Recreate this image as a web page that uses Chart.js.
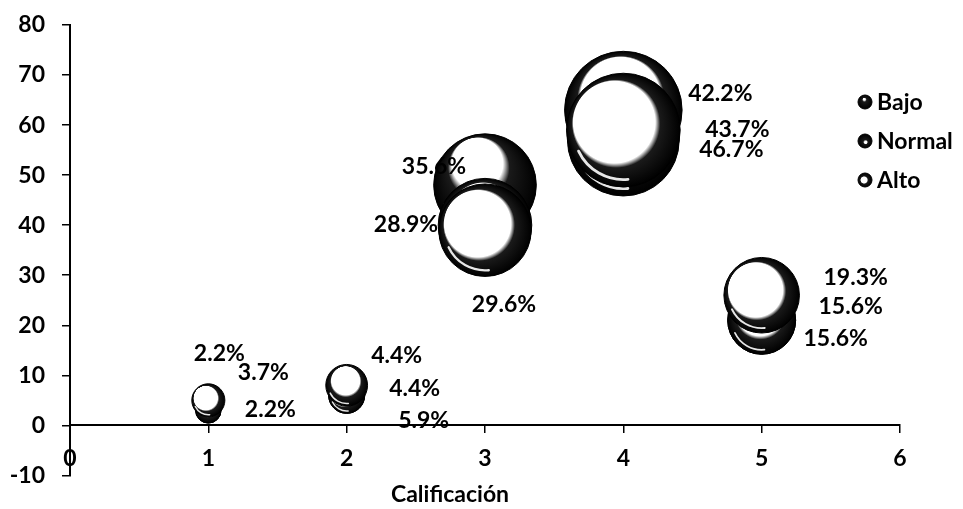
<!DOCTYPE html>
<html>
<head>
<meta charset="utf-8">
<script src="https://cdn.jsdelivr.net/npm/chart.js@4.4.1/dist/chart.umd.min.js"></script>
<style>
  html, body { margin: 0; padding: 0; background: #fff; }
  #wrap { width: 963px; height: 509px; }
</style>
</head>
<body>
<div id="wrap"><canvas id="chart" width="963" height="509"></canvas></div>
<script>
// Rating categories (x) and, per group, the plotted count (y) and the share in percent (bubble size)
const categories = [1, 2, 3, 4, 5];
const seriesNames = ['Bajo', 'Normal', 'Alto'];
const bajoValues = [3, 6, 48, 57, 21];
const normalValues = [5, 6, 39, 59, 26];
const altoValues = [3, 8, 40, 63, 21];
const bajoPercent = [2.2, 4.4, 35.6, 42.2, 15.6];
const normalPercent = [3.7, 4.4, 28.9, 43.7, 19.3];
const altoPercent = [2.2, 5.9, 29.6, 46.7, 15.6];
const xAxisTitle = 'Calificación';

// ---- styling ----
const FONT = "Lato, 'Open Sans', sans-serif";
const FONT_SIZE = 23;
const RADIUS_PER_ROOT = 8.6;        // bubble area proportional to the percentage
// glossy ball look: white core (offset and radius as fractions of the bubble radius;
// offset + radius must stay below 1 so the core stays inside the ball)
const shading = [
  { ix: -0.15, iy: -0.42, ir: 0.5 },   // Bajo
  { ix: -0.16, iy: -0.14, ir: 0.72 },  // Normal
  { ix: -0.05, iy: -0.22, ir: 0.68 }   // Alto
];
const keyShading = [
  { ix: -0.1, iy: -0.4, ir: 0.15 },
  { ix: 0.1, iy: 0.2, ir: 0.18 },
  { ix: -0.15, iy: 0, ir: 0.45 }
];
// which bubble sits in front, per series and category (higher = in front)
const stacking = [
  [0, 0, 0, 0, 0],
  [2, 1, 2, 2, 2],
  [1, 2, 1, 1, 1]
];
// label placement relative to each bubble centre, in pixels
const labelOffsets = [
  [[11, -57], [50, -40], [-51, -19], [97, -47], [89, -14]],
  [[55, -28], [68, -7], [-79, -6], [114, -1], [94, -18]],
  [[62, -1], [77, 35], [19, 79], [108, 40], [74, 18]]
];

const valueSets = [bajoValues, normalValues, altoValues];
const percentSets = [bajoPercent, normalPercent, altoPercent];

function ballGradient(g, cx, cy, r, s) {
  const grad = g.createRadialGradient(cx + s.ix * r, cy + s.iy * r, s.ir * r, cx, cy, r);
  grad.addColorStop(0, '#ffffff');
  grad.addColorStop(0.2, '#1a1a1a');
  grad.addColorStop(1, '#000000');
  return grad;
}

const datasets = seriesNames.map((name, si) => ({
  label: name,
  data: categories.map((c, i) => ({
    x: c,
    y: valueSets[si][i],
    r: RADIUS_PER_ROOT * Math.sqrt(percentSets[si][i]),
    pct: percentSets[si][i]
  })),
  borderColor: '#000',
  borderWidth: 1,
  backgroundColor: (ctx) => {
    if (ctx.type !== 'data' || !ctx.raw) return '#000';
    const ch = ctx.chart;
    const xs = ch.scales.x, ys = ch.scales.y;
    if (!xs || !ys) return '#000';
    const px = xs.getPixelForValue(ctx.raw.x);
    const py = ys.getPixelForValue(ctx.raw.y);
    if (!isFinite(px) || !isFinite(py)) return '#000';
    return ballGradient(ch.ctx, px, py, ctx.raw.r, shading[ctx.datasetIndex]);
  }
}));

// draw the bubbles back-to-front per category, each with a light reflection along its lower edge
const bubbleStack = {
  id: 'bubbleStack',
  beforeDatasetsDraw(chart) {
    const g = chart.ctx;
    const items = [];
    chart.data.datasets.forEach((ds, di) => {
      const meta = chart.getDatasetMeta(di);
      meta.data.forEach((el, i) => items.push({ el, rank: stacking[di][i] }));
    });
    items.sort((a, b) => a.rank - b.rank);
    items.forEach(({ el }) => {
      el.draw(g, chart.chartArea);
      const r = el.options.radius;
      if (r > 15) {
        g.save();
        g.beginPath();
        g.arc(el.x, el.y, r * 0.87, Math.PI * 0.47, Math.PI * 0.86);
        g.strokeStyle = 'rgba(255,255,255,0.9)';
        g.lineWidth = Math.max(1.5, r * 0.05);
        g.lineCap = 'round';
        g.stroke();
        g.restore();
      }
    });
    return false;
  }
};

// percentage labels next to the bubbles
const bubbleLabels = {
  id: 'bubbleLabels',
  afterDraw(chart) {
    const g = chart.ctx;
    g.save();
    g.font = `bold ${FONT_SIZE}px ${FONT}`;
    g.fillStyle = '#000';
    g.textAlign = 'center';
    g.textBaseline = 'middle';
    chart.data.datasets.forEach((ds, di) => {
      const meta = chart.getDatasetMeta(di);
      meta.data.forEach((el, i) => {
        const [dx, dy] = labelOffsets[di][i];
        g.fillText(ds.data[i].pct.toFixed(1) + '%', el.x + dx, el.y + dy);
      });
    });
    g.restore();
  }
};

// series key on the right
const seriesKey = {
  id: 'seriesKey',
  afterDraw(chart) {
    const g = chart.ctx;
    const x0 = 865, y0 = 102, step = 39, mr = 7;
    g.save();
    g.font = `bold ${FONT_SIZE}px ${FONT}`;
    g.textAlign = 'left';
    g.textBaseline = 'middle';
    chart.data.datasets.forEach((ds, i) => {
      const y = y0 + i * step;
      g.beginPath();
      g.arc(x0, y, mr, 0, Math.PI * 2);
      g.fillStyle = ballGradient(g, x0, y, mr, keyShading[i]);
      g.fill();
      g.lineWidth = 1;
      g.strokeStyle = '#000';
      g.stroke();
      g.fillStyle = '#000';
      g.fillText(ds.label, x0 + 12, y + 1);
    });
    g.restore();
  }
};

const tickFont = { family: FONT, size: FONT_SIZE, weight: 'bold' };

new Chart(document.getElementById('chart'), {
  type: 'bubble',
  data: { datasets },
  plugins: [bubbleStack, bubbleLabels, seriesKey],
  options: {
    responsive: false,
    animation: false,
    events: [],
    layout: { autoPadding: false, padding: { left: 0, right: 63, top: 25, bottom: 0 } },
    plugins: {
      legend: { display: false },
      tooltip: { enabled: false },
      title: {
        display: true,
        text: xAxisTitle,
        position: 'bottom',
        color: '#000',
        font: tickFont,
        padding: { top: 5, bottom: 1 }
      }
    },
    scales: {
      x: {
        type: 'linear',
        position: { y: 0 },
        min: 0,
        max: 6,
        afterFit(scale) { scale.height = 0; },
        ticks: { stepSize: 1, padding: 12, color: '#000', font: tickFont },
        grid: { drawOnChartArea: false, drawTicks: true, tickLength: 7, color: '#000', lineWidth: 1.5 },
        border: { display: true, color: '#000', width: 2 }
      },
      y: {
        type: 'linear',
        position: 'left',
        min: -10,
        max: 80,
        afterFit(scale) {
          scale.width = 70;
          scale.paddingTop = 0;
          scale.paddingBottom = 0;
        },
        ticks: { stepSize: 10, padding: 17, color: '#000', font: tickFont },
        grid: { drawOnChartArea: false, drawTicks: true, tickLength: 8, color: '#000', lineWidth: 1.5 },
        border: { display: true, color: '#000', width: 2 }
      }
    }
  }
});
</script>
</body>
</html>
